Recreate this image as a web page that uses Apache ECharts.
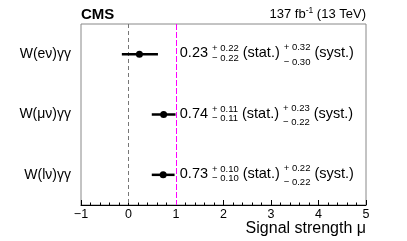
<!DOCTYPE html>
<html><head><meta charset="utf-8">
<script src="https://cdn.jsdelivr.net/npm/echarts@6/dist/echarts.min.js"></script>
<style>html,body{margin:0;padding:0;background:#fff}#c{width:407px;height:241px}</style>
</head><body><div id="c"></div>
<script>
// ---- data ----
const categories = ['W(eν)γγ', 'W(μν)γγ', 'W(lν)γγ'];
const central = [0.23, 0.74, 0.73];
const statUp = ['0.22', '0.11', '0.10'];
const statDn = ['0.22', '0.11', '0.10'];
const systUp = ['0.32', '0.23', '0.22'];
const systDn = ['0.30', '0.22', '0.22'];
const errLow = [-0.14, 0.49, 0.49];
const errHigh = [0.62, 0.99, 0.97];
const xMin = -1, xMax = 5, xStep = 1;
const refLines = [0, 1];
const xTitle = 'Signal strength μ';
const lumiMain = '137 fb', lumiSup = '-1', lumiTail = ' (13 TeV)';

// ---- style ----
const FONT = '"Liberation Sans", Arial, Helvetica, sans-serif';
const MAIN = 14.5, SMALL = 9.5;
const TEXT_X = 1.08;
const cvs = document.createElement('canvas').getContext('2d');
function tw(t, size, bold) { cvs.font = (bold ? 'bold ' : '') + size + 'px ' + FONT; return cvs.measureText(t).width; }

const data = categories.map((c, i) => [i, central[i], errLow[i], errHigh[i]]);

function renderItem(params, api) {
  const i = api.value(0);
  const c = api.coord([api.value(1), i]);
  const lo = api.coord([api.value(2), i]);
  const hi = api.coord([api.value(3), i]);
  const t = api.coord([TEXT_X, i]);
  const children = [
    { type: 'line', shape: { x1: lo[0], y1: lo[1], x2: hi[0], y2: hi[1] }, style: { stroke: '#000', lineWidth: 2.5 } },
    { type: 'circle', shape: { cx: c[0], cy: c[1], r: 3.5 }, style: { fill: '#000' } }
  ];
  const y = t[1];
  let x = t[0];
  const txt = (s, xx, yy, size) => ({ type: 'text', style: { text: s, x: xx, y: yy, font: size + 'px ' + FONT, fill: '#000', align: 'left', verticalAlign: 'middle' } });
  const mainS = central[i].toFixed(2);
  children.push(txt(mainS, x, y - 1, MAIN));
  x += tw(mainS, MAIN) + 4;
  const su = '+ ' + statUp[i], sd = '− ' + statDn[i];
  children.push(txt(su, x, y - 5.5, SMALL), txt(sd, x, y + 4, SMALL));
  x += Math.max(tw(su, SMALL), tw(sd, SMALL)) + 4;
  children.push(txt('(stat.)', x, y - 1, MAIN));
  x += tw('(stat.)', MAIN) + 4;
  const yu = '+ ' + systUp[i], yd = '− ' + systDn[i];
  children.push(txt(yu, x, y - 6.5, SMALL), txt(yd, x, y + 8, SMALL));
  x += Math.max(tw(yu, SMALL), tw(yd, SMALL)) + 4;
  children.push(txt('(syst.)', x, y - 1, MAIN));
  return { type: 'group', children };
}

const chart = echarts.init(document.getElementById('c'), null, { renderer: 'canvas' });
const gridL = 81, gridR = 41, gridT = 24, gridB = 36;
const W = 407;
const lumiSize = 13, lumiSupSize = 8.5;
const lumiW = tw(lumiMain, lumiSize) + tw(lumiSup, lumiSupSize) + tw(lumiTail, lumiSize);
const lx0 = W - gridR - lumiW;

chart.setOption({
  animation: false,
  grid: { left: gridL, right: gridR, top: gridT, bottom: gridB, show: true, borderColor: '#888', borderWidth: 1 },
  xAxis: {
    type: 'value', min: xMin, max: xMax, interval: xStep,
    axisLine: { show: true, onZero: false, lineStyle: { color: '#000', width: 1 } },
    axisTick: { show: true, inside: true, length: 5, lineStyle: { color: '#000' } },
    minorTick: { show: true, splitNumber: 5, length: 2.5, lineStyle: { color: '#000' } },
    splitLine: { show: false },
    axisLabel: { fontFamily: FONT, fontSize: 12.5, color: '#000', margin: 3, formatter: v => v < 0 ? '−' + Math.abs(v) : String(v) },
    name: xTitle, nameLocation: 'end', nameGap: 0,
    nameTextStyle: { fontFamily: FONT, fontSize: 16, color: '#000', align: 'right', verticalAlign: 'top', padding: [16, 0, 0, 0] }
  },
  yAxis: {
    type: 'category', data: categories, inverse: true,
    axisLine: { show: false }, axisTick: { show: false }, splitLine: { show: false },
    axisLabel: { fontFamily: FONT, fontSize: 14, color: '#000', margin: 10 }
  },
  graphic: [
    { type: 'text', x: gridL, y: 14.5, style: { text: 'CMS', font: 'bold 15px ' + FONT, fill: '#000', verticalAlign: 'middle' } },
    { type: 'text', x: lx0, y: 14.5, style: { text: lumiMain, font: lumiSize + 'px ' + FONT, fill: '#000', verticalAlign: 'middle' } },
    { type: 'text', x: lx0 + tw(lumiMain, lumiSize), y: 11, style: { text: lumiSup, font: lumiSupSize + 'px ' + FONT, fill: '#000', verticalAlign: 'middle' } },
    { type: 'text', x: lx0 + tw(lumiMain, lumiSize) + tw(lumiSup, lumiSupSize), y: 14.5, style: { text: lumiTail, font: lumiSize + 'px ' + FONT, fill: '#000', verticalAlign: 'middle' } }
  ],
  series: [
    {
      type: 'custom', renderItem, data, encode: { x: [1, 2, 3], y: 0 }, z: 5,
      markLine: {
        silent: true, symbol: 'none', label: { show: false },
        data: [
          { xAxis: refLines[0], lineStyle: { color: '#777', type: [4, 3], width: 1 } },
          { xAxis: refLines[1], lineStyle: { color: '#ff00ff', type: [6, 2], width: 1 } }
        ]
      }
    }
  ]
});
</script></body></html>
